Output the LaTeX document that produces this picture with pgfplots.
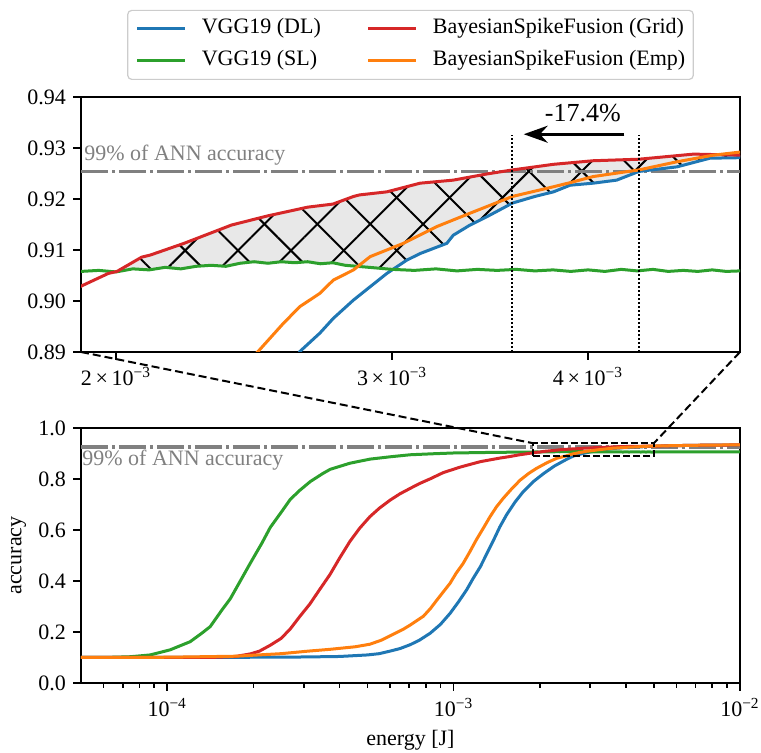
\documentclass[border=0pt]{standalone}
\usepackage{fontspec}
\setmainfont{Liberation Serif}
\usepackage{pgfplots}
\usepackage{pgfplotstable}
\pgfplotsset{compat=1.18}
\usepgfplotslibrary{fillbetween}
\usetikzlibrary{patterns.meta,arrows.meta}

\definecolor{cblue}{HTML}{1F77B4}
\definecolor{corange}{HTML}{FF7F0E}
\definecolor{cgreen}{HTML}{2CA02C}
\definecolor{cred}{HTML}{D62728}
\definecolor{anngray}{HTML}{808080}

% VGG19 (DL)
\pgfplotstableread{
x y
5e-5 0.100
1e-4 0.100
2e-4 0.101
3e-4 0.102
4e-4 0.104
5e-4 0.110
5.5e-4 0.115
6.0e-4 0.125
6.5e-4 0.135
7.05e-4 0.150
7.6e-4 0.168
8.28e-4 0.195
9.0e-4 0.230
9.72e-4 0.273
1.04e-3 0.318
1.11e-3 0.365
1.17e-3 0.410
1.24e-3 0.456
1.31e-3 0.510
1.38e-3 0.561
1.45e-3 0.612
1.53e-3 0.659
1.64e-3 0.710
1.75e-3 0.750
1.90e-3 0.790
2.06e-3 0.821
2.25e-3 0.851
2.48e-3 0.877
2.62e-3 0.8901
2.698e-3 0.8937
2.752e-3 0.8966
2.835e-3 0.9002
2.905e-3 0.9028
2.977e-3 0.9054
3.065e-3 0.9080
3.126e-3 0.9093
3.20e-3 0.9105
3.251e-3 0.9113
3.282e-3 0.9129
3.36e-3 0.9148
3.447e-3 0.9165
3.58e-3 0.9192
3.70e-3 0.9205
3.802e-3 0.9214
3.896e-3 0.9227
4.03e-3 0.9231
4.172e-3 0.9237
4.31e-3 0.9254
4.558e-3 0.9263
4.784e-3 0.9280
5.0e-3 0.9281
6.0e-3 0.9310
8.0e-3 0.9330
1e-2 0.9333
}\dldata

% VGG19 (SL)
\pgfplotstableread{
x y
5e-5 0.100
6.5e-5 0.101
7.43e-5 0.103
8.72e-5 0.110
1.024e-4 0.130
1.203e-4 0.162
1.32e-4 0.195
1.413e-4 0.221
1.55e-4 0.285
1.66e-4 0.330
1.80e-4 0.400
1.949e-4 0.469
2.07e-4 0.520
2.14e-4 0.548
2.29e-4 0.610
2.51e-4 0.672
2.69e-4 0.720
2.90e-4 0.755
3.16e-4 0.790
3.50e-4 0.822
3.71e-4 0.838
4.07e-4 0.852
4.35e-4 0.862
5.11e-4 0.878
6.0e-4 0.887
7.05e-4 0.895
8.5e-4 0.899
1.0e-3 0.902
1.4e-3 0.9045
1.9e-3 0.9058
1.95e-3 0.9060
2.0e-3 0.9057
2.05e-3 0.9063
2.10e-3 0.9061
2.15e-3 0.9066
2.20e-3 0.9063
2.25e-3 0.9068
2.30e-3 0.9070
2.35e-3 0.9068
2.40e-3 0.9074
2.45e-3 0.9077
2.50e-3 0.9074
2.55e-3 0.9077
2.60e-3 0.9075
2.65e-3 0.9077
2.70e-3 0.9073
2.75e-3 0.9075
2.80e-3 0.9070
2.85e-3 0.9068
2.90e-3 0.9066
2.95e-3 0.9064
3.0e-3 0.9062
3.1e-3 0.9060
3.2e-3 0.9063
3.3e-3 0.9059
3.4e-3 0.9062
3.5e-3 0.9060
3.6e-3 0.9062
3.7e-3 0.9059
3.8e-3 0.9061
3.9e-3 0.9058
4.0e-3 0.9061
4.1e-3 0.9058
4.2e-3 0.9062
4.3e-3 0.9059
4.4e-3 0.9062
4.5e-3 0.9058
4.6e-3 0.9060
4.7e-3 0.9058
4.8e-3 0.9061
4.9e-3 0.9058
5.0e-3 0.9059
6e-3 0.9060
1e-2 0.9060
}\sldata

% BayesianSpikeFusion (Grid)
\pgfplotstableread{
x y
5e-5 0.100
1e-4 0.100
1.5e-4 0.101
1.73e-4 0.104
1.95e-4 0.114
2.1e-4 0.125
2.29e-4 0.148
2.5e-4 0.175
2.69e-4 0.212
2.9e-4 0.260
3.15e-4 0.310
3.4e-4 0.365
3.7e-4 0.425
4.0e-4 0.490
4.35e-4 0.556
4.7e-4 0.607
5.1e-4 0.652
5.5e-4 0.685
6.0e-4 0.717
6.5e-4 0.742
7.05e-4 0.763
7.6e-4 0.782
8.3e-4 0.801
9.2e-4 0.825
1.05e-3 0.846
1.14e-3 0.857
1.24e-3 0.868
1.34e-3 0.875
1.45e-3 0.882
1.57e-3 0.888
1.7e-3 0.895
1.8e-3 0.899
1.9e-3 0.9029
1.978e-3 0.9054
2.003e-3 0.9058
2.077e-3 0.9086
2.103e-3 0.9090
2.21e-3 0.9113
2.37e-3 0.9149
2.50e-3 0.9167
2.65e-3 0.9184
2.75e-3 0.9190
2.835e-3 0.9205
2.86e-3 0.9208
2.977e-3 0.9214
3.126e-3 0.9231
3.282e-3 0.9237
3.447e-3 0.9249
3.58e-3 0.9257
3.802e-3 0.9268
4.03e-3 0.9275
4.31e-3 0.9278
4.67e-3 0.9288
5.0e-3 0.9286
6e-3 0.9310
8e-3 0.9330
1e-2 0.9335
}\griddata

% BayesianSpikeFusion (Emp)
\pgfplotstableread{
x y
5e-5 0.100
1e-4 0.101
1.73e-4 0.105
2.5e-4 0.115
3.11e-4 0.125
3.7e-4 0.132
4.53e-4 0.142
5.1e-4 0.152
5.6e-4 0.168
6.25e-4 0.195
6.7e-4 0.212
7.05e-4 0.227
7.85e-4 0.262
8.3e-4 0.292
8.74e-4 0.325
9.2e-4 0.357
9.72e-4 0.391
1.02e-3 0.430
1.08e-3 0.469
1.14e-3 0.515
1.2e-3 0.561
1.27e-3 0.607
1.34e-3 0.652
1.41e-3 0.690
1.49e-3 0.724
1.6e-3 0.763
1.71e-3 0.796
1.83e-3 0.822
1.95e-3 0.842
2.12e-3 0.864
2.29e-3 0.881
2.464e-3 0.8901
2.557e-3 0.8956
2.62e-3 0.8989
2.698e-3 0.9015
2.752e-3 0.9041
2.835e-3 0.9061
2.905e-3 0.9087
3.05e-3 0.9113
3.204e-3 0.9146
3.363e-3 0.9172
3.58e-3 0.9205
3.802e-3 0.9224
3.896e-3 0.9232
4.03e-3 0.9244
4.31e-3 0.9257
4.558e-3 0.9273
4.809e-3 0.9286
5.0e-3 0.9292
6e-3 0.9310
8e-3 0.9332
1e-2 0.9335
}\empdata

\tikzset{
  curve/.style={line width=1.5pt},
  ann/.style={anngray, line width=1.7pt, dash pattern=on 13.5pt off 2pt on 1.5pt off 2pt},
  hatchA/.style={pattern={Lines[angle=45,distance=18.7pt,line width=1pt]}, pattern color=black},
  hatchB/.style={pattern={Lines[angle=-45,distance=18.7pt,line width=1pt]}, pattern color=black},
  dotv/.style={black, line width=1pt, dash pattern=on 1pt off 1pt},
}
\pgfplotsset{
  every axis/.append style={
    scale only axis, width=329.5pt, height=127.5pt,
    axis line style={line width=0.8pt},
    tick style={line width=0.8pt, black},
    tick align=outside,
    major tick length=4pt, minor tick length=2.3pt,
    xtick pos=bottom, ytick pos=left,
    tick label style={font=\fontsize{11}{13}\selectfont},
    /pgf/number format/assume math mode=true,
  },
}

\begin{document}
\begin{tikzpicture}
\begin{axis}[name=top, at={(0,0)}, anchor=south west,
    xmode=log, set layers,
    xmin=1.9e-3, xmax=5e-3, ymin=0.89, ymax=0.94,
    xtick={2e-3,3e-3,4e-3}, minor xtick={},
    xticklabels={2{\,}×{\,}10\textsuperscript{−3}, 3{\,}×{\,}10\textsuperscript{−3}, 4{\,}×{\,}10\textsuperscript{−3}},
    ytick={0.89,0.90,0.91,0.92,0.93,0.94},
    yticklabel style={/pgf/number format/.cd, fixed, fixed zerofill, precision=2},
    legend columns=2,
    legend image code/.code={\draw[#1, line width=1.5pt] (0pt,0pt) -- (24pt,0pt);},
    legend style={at={(0.5,1)}, anchor=south, yshift=8.5pt,
      draw=black!20, rounded corners=2pt, line width=0.6pt,
      font=\fontsize{11}{13}\selectfont,
      inner xsep=4pt, inner ysep=3.75pt, row sep=5pt,
      nodes={inner sep=0pt, text height=8pt, text depth=3pt},
      /tikz/every odd column/.append style={column sep=7.5pt},
      /tikz/every even column/.append style={column sep=23pt},
      cells={anchor=west}},
  ]
  \addplot[forget plot, draw=none, name path=gridp] table {\griddata};
  \addplot[forget plot, draw=none, name path=slp] table {\sldata};
  \addplot[forget plot, draw=none, name path=dlp] table {\dldata};
  \addplot[forget plot, fill=gray!18, postaction={hatchA}, postaction={hatchB}]
    fill between[of=gridp and slp, soft clip={(axis cs:2.003e-3,0.85) rectangle (axis cs:3.0e-3,0.95)}];
  \addplot[forget plot, fill=gray!18, postaction={hatchA}, postaction={hatchB}]
    fill between[of=gridp and dlp, soft clip={(axis cs:3.0e-3,0.85) rectangle (axis cs:5e-3,0.95)}];

  \addplot[forget plot, ann] coordinates {(1.9e-3,0.9254) (5e-3,0.9254)};
  \node[anngray, anchor=base west, font=\fontsize{11}{13}\selectfont, inner sep=0pt, xshift=1.5pt, yshift=5.5pt]
    at (axis cs:1.9e-3,0.9254) {99\% of ANN accuracy};

  \addplot[forget plot, curve, cblue] table {\dldata};
  \addplot[forget plot, curve, cgreen] table {\sldata};
  \addplot[forget plot, curve, cred] table {\griddata};
  \addplot[forget plot, curve, corange] table {\empdata};

  \addplot[forget plot, dotv] coordinates {(3.58e-3,0.89) (3.58e-3,0.9325)};
  \addplot[forget plot, dotv] coordinates {(4.31e-3,0.89) (4.31e-3,0.9325)};
  \draw[-{Stealth[length=12pt,width=8.5pt]}, line width=1.3pt] (axis cs:4.22e-3,0.9327) -- (axis cs:3.64e-3,0.9327);
  \node[font=\fontsize{13}{15}\selectfont] at (axis cs:3.97e-3,0.9369) {-17.4\%};

  \addlegendimage{cblue}\addlegendentry{VGG19 (DL)}
  \addlegendimage{cred}\addlegendentry{BayesianSpikeFusion (Grid)}
  \addlegendimage{cgreen}\addlegendentry{VGG19 (SL)}
  \addlegendimage{corange}\addlegendentry{BayesianSpikeFusion (Emp)}
\end{axis}

\begin{axis}[name=bot, at={(0,-165.5pt)}, anchor=south west,
    xmode=log,
    xmin=5e-5, xmax=1e-2, ymin=0, ymax=1,
    xtick={1e-4,1e-3,1e-2},
    xticklabels={10\textsuperscript{−4}, 10\textsuperscript{−3}, 10\textsuperscript{−2}},
    minor xtick={6e-5,7e-5,8e-5,9e-5,2e-4,3e-4,4e-4,5e-4,6e-4,7e-4,8e-4,9e-4,2e-3,3e-3,4e-3,5e-3,6e-3,7e-3,8e-3,9e-3},
    ytick={0,0.2,0.4,0.6,0.8,1.0},
    yticklabel style={/pgf/number format/.cd, fixed, fixed zerofill, precision=1},
    xlabel={\fontsize{11}{13}\selectfont energy [J]},
    ylabel={\fontsize{11}{13}\selectfont accuracy},
    every axis x label/.style={at={(axis description cs:0.5,-0.2235)}, anchor=center},
    every axis y label/.style={at={(axis description cs:-0.0948,0.5)}, rotate=90, anchor=center},
  ]
  \addplot[ann] coordinates {(5e-5,0.9254) (1e-2,0.9254)};
  \node[anngray, anchor=base west, font=\fontsize{11}{13}\selectfont, inner sep=0pt, xshift=0.5pt, yshift=-9pt]
    at (axis cs:5e-5,0.9254) {99\% of ANN accuracy};
  \addplot[curve, cblue] table {\dldata};
  \addplot[curve, cgreen] table {\sldata};
  \addplot[curve, cred] table {\griddata};
  \addplot[curve, corange] table {\empdata};
  \draw[black, line width=1pt, dash pattern=on 3.5pt off 1.5pt] (axis cs:1.9e-3,0.89) rectangle (axis cs:5e-3,0.94);
  \coordinate (rl) at (axis cs:1.9e-3,0.94);
  \coordinate (rr) at (axis cs:5e-3,0.94);
\end{axis}

\draw[black, line width=1pt, dash pattern=on 4pt off 2pt] (top.south west) -- (rl);
\draw[black, line width=1pt, dash pattern=on 4pt off 2pt] (top.south east) -- (rr);

\pgfresetboundingbox
\useasboundingbox (-40.5pt,-200.5pt) rectangle (340pt,176pt);
\end{tikzpicture}
\end{document}
